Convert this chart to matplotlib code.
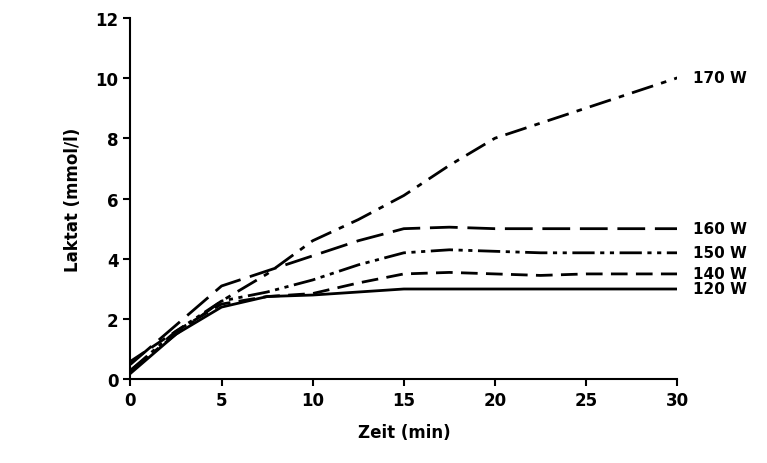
import matplotlib
matplotlib.use("Agg")
import matplotlib.pyplot as plt

t = [0, 2.5, 5, 7.5, 10, 12.5, 15, 17.5, 20, 22.5, 25, 27.5, 30]
w170 = [0.3, 1.5, 2.6, 3.5, 4.6, 5.3, 6.1, 7.1, 8.0, 8.5, 9.0, 9.5, 10.0]
w160 = [0.5, 1.8, 3.1, 3.6, 4.1, 4.6, 5.0, 5.05, 5.0, 5.0, 5.0, 5.0, 5.0]
w150 = [0.3, 1.6, 2.6, 2.9, 3.3, 3.8, 4.2, 4.3, 4.25, 4.2, 4.2, 4.2, 4.2]
w140 = [0.6, 1.6, 2.5, 2.75, 2.85, 3.2, 3.5, 3.55, 3.5, 3.45, 3.5, 3.5, 3.5]
w120 = [0.2, 1.5, 2.4, 2.75, 2.8, 2.9, 3.0, 3.0, 3.0, 3.0, 3.0, 3.0, 3.0]
labels = ["170 W", "160 W", "150 W", "140 W", "120 W"]

fig = plt.figure(figsize=(7.67, 4.64), dpi=100)
ax = fig.add_axes([0.17, 0.18, 0.713, 0.78])
series = [w170, w160, w150, w140, w120]
styles = [(0, (8, 3, 2, 3)), (0, (10, 3.5)), (0, (8, 2, 1.5, 2, 1.5, 2)), (0, (6, 3)), '-']
for y, ls, lab in zip(series, styles, labels):
    ax.plot(t, y, color='black', lw=2, linestyle=ls)
    ax.annotate(lab, (30, y[-1]), xytext=(11, 0), textcoords='offset points',
                va='center', fontsize=11, fontweight='bold', annotation_clip=False)
ax.set_xlim(0, 30)
ax.set_ylim(0, 12)
ax.set_xticks(range(0, 31, 5))
ax.set_yticks(range(0, 13, 2))
for s in ['top', 'right']:
    ax.spines[s].set_visible(False)
for s in ['left', 'bottom']:
    ax.spines[s].set_linewidth(1.5)
ax.tick_params(width=1.5, length=5, labelsize=12)
for l in ax.get_xticklabels() + ax.get_yticklabels():
    l.set_fontweight('bold')
ax.set_xlabel('Zeit (min)', fontsize=12, fontweight='bold', labelpad=10)
ax.set_ylabel('Laktat (mmol/l)', fontsize=12, fontweight='bold', labelpad=10)
fig.savefig('out.png')
